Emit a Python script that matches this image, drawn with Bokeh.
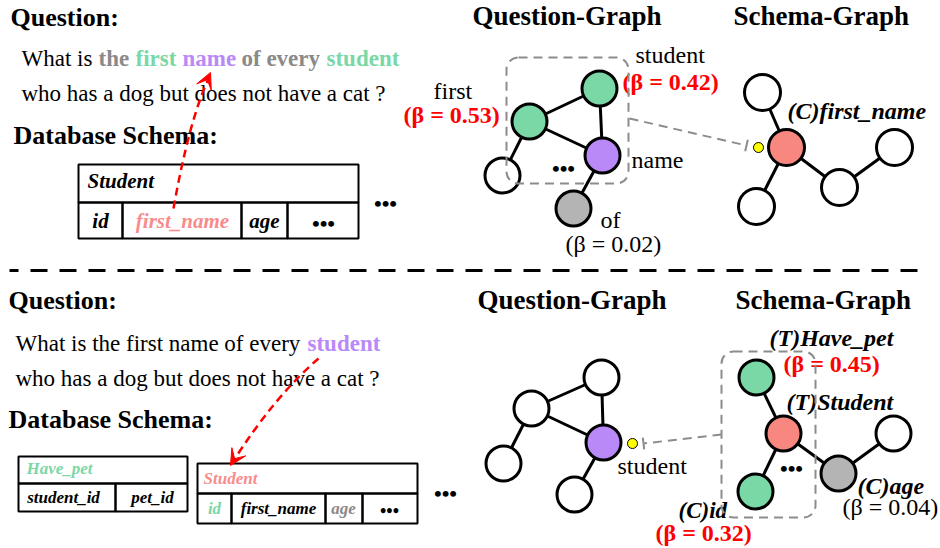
from bokeh.plotting import figure
from bokeh.models import Range1d, BoxAnnotation, Arrow, TeeHead, VeeHead
from bokeh.core.properties import value
from bokeh.embed import file_html
from bokeh.resources import INLINE

FONT = "Liberation Serif"
GREEN = "#7ad7a6"
PURPLE = "#b98af7"
PINK = "#f7877f"
PINK_TXT = "#f88c8c"
GRAY = "#b4b4b4"
GRAY_TXT = "#8a8a8a"
DASH_GRAY = "#8c8c8c"
RED = "#ff0000"
YELLOW = "#ffff00"
BASELINE_FIX = 0.32  # svg text sits lower than the canvas baseline; lift by this many em

# ---------------- graph nodes / edges ----------------
top_q_x = [529, 599, 602, 502, 573]
top_q_y = [121, 88, 155, 175, 208]
top_q_fill = [GREEN, GREEN, PURPLE, "white", GRAY]
top_q_edges = [(0, 1), (0, 2), (1, 2), (0, 3), (2, 4)]

top_s_x = [786, 762, 756, 839, 894]
top_s_y = [147, 92, 206, 187, 147]
top_s_fill = [PINK, "white", "white", "white", "white"]
top_s_edges = [(0, 1), (0, 2), (0, 3), (3, 4)]

bot_q_x = [601, 531, 603, 503, 574]
bot_q_y = [377, 408, 442, 463, 494]
bot_q_fill = ["white", "white", PURPLE, "white", "white"]
bot_q_edges = [(1, 0), (1, 2), (0, 2), (1, 3), (2, 4)]

bot_s_x = [756, 783, 755, 838, 893]
bot_s_y = [377, 433, 491, 473, 433]
bot_s_fill = [GREEN, PINK, GREEN, GRAY, "white"]
bot_s_edges = [(1, 0), (1, 2), (1, 3), (3, 4)]

# ---------------- tables (left, right, top, bottom) ----------------
top_table_cells = [(78, 358, 164, 202), (78, 122, 202, 238), (122, 241, 202, 238),
                   (241, 287, 202, 238), (287, 358, 202, 238)]
pet_table_cells = [(18, 187, 456, 483), (18, 115, 483, 511), (115, 187, 483, 511)]
stu_table_cells = [(197, 417, 463, 493), (197, 231, 493, 523), (231, 325, 493, 523),
                   (325, 362, 493, 523), (362, 417, 493, 523)]

# ---------------- texts: x, y(baseline), text, size, color, style, align ----------------
texts = [
    # top half
    (10, 25, "Question:", 26, "black", "bold", "left"),
    (21, 65, "What is", 23, "black", "normal", "left"),
    (98, 65, "the", 23, GRAY_TXT, "bold", "left"),
    (135, 65, "first", 23, GREEN, "bold", "left"),
    (182, 65, "name", 23, PURPLE, "bold", "left"),
    (241, 65, "of every", 23, GRAY_TXT, "bold", "left"),
    (326, 65, "student", 23, GREEN, "bold", "left"),
    (21, 100, "who has a dog but does not have a cat ?", 23, "black", "normal", "left"),
    (13, 143, "Database Schema:", 26, "black", "bold", "left"),
    (87, 187, "Student", 21, "black", "bold italic", "left"),
    (100, 227, "id", 21, "black", "bold italic", "center"),
    (182, 227, "first_name", 21, PINK_TXT, "bold italic", "center"),
    (264, 227, "age", 21, "black", "bold italic", "center"),
    (472, 24, "Question-Graph", 27, "black", "bold", "left"),
    (733, 24, "Schema-Graph", 27, "black", "bold", "left"),
    (433, 98, "first", 24, "black", "normal", "left"),
    (403, 122, "(β = 0.53)", 24, RED, "bold", "left"),
    (635, 62, "student", 24, "black", "normal", "left"),
    (622, 89, "(β = 0.42)", 24, RED, "bold", "left"),
    (631, 167, "name", 24, "black", "normal", "left"),
    (600, 227, "of", 24, "black", "normal", "left"),
    (565, 251, "(β = 0.02)", 24, "black", "normal", "left"),
    (787, 118, "(C)first_name", 24, "black", "bold italic", "left"),
    # bottom half
    (8, 308, "Question:", 26, "black", "bold", "left"),
    (15, 350, "What is the first name of every", 23, "black", "normal", "left"),
    (307, 350, "student", 23, PURPLE, "bold", "left"),
    (15, 385, "who has a dog but does not have a cat ?", 23, "black", "normal", "left"),
    (8, 427, "Database Schema:", 26, "black", "bold", "left"),
    (26, 473, "Have_pet", 17, GREEN, "bold italic", "left"),
    (63, 502, "student_id", 17, "black", "bold italic", "center"),
    (152, 502, "pet_id", 17, "black", "bold italic", "center"),
    (203, 483, "Student", 17, PINK_TXT, "bold italic", "left"),
    (214, 513, "id", 17, GREEN, "bold italic", "center"),
    (278, 513, "first_name", 17, "black", "bold italic", "center"),
    (343, 513, "age", 17, GRAY_TXT, "bold italic", "center"),
    (477, 308, "Question-Graph", 27, "black", "bold", "left"),
    (735, 308, "Schema-Graph", 27, "black", "bold", "left"),
    (617, 473, "student", 24, "black", "normal", "left"),
    (769, 345, "(T)Have_pet", 24, "black", "bold italic", "left"),
    (783, 371, "(β = 0.45)", 24, RED, "bold", "left"),
    (786, 409, "(T)Student", 24, "black", "bold italic", "left"),
    (857, 493, "(C)age", 24, "black", "bold italic", "left"),
    (842, 514, "(β = 0.04)", 24, "black", "normal", "left"),
    (678, 517, "(C)id", 23, "black", "bold italic", "left"),
    (655, 540, "(β = 0.32)", 24, RED, "bold", "left"),
]

# ellipsis marks: x, y(center), size
dots = [(323, 223, 22), (385, 203, 22), (563, 168, 22),
        (389, 510, 18), (445, 493, 22), (791, 468, 22)]

p = figure(width=940, height=548, x_range=Range1d(0, 940), y_range=Range1d(548, 0),
           output_backend="svg", toolbar_location=None, min_border=0,
           x_axis_location=None, y_axis_location=None)
p.grid.visible = False
p.outline_line_color = None
p.background_fill_color = "white"
p.border_fill_color = "white"


def draw_graph(xs, ys, fills, edges, r):
    p.segment(x0=[xs[a] for a, b in edges], y0=[ys[a] for a, b in edges],
              x1=[xs[b] for a, b in edges], y1=[ys[b] for a, b in edges],
              line_color="black", line_width=3)
    p.circle(x=xs, y=ys, radius=r, fill_color=fills, line_color="black", line_width=3)


def draw_table(cells):
    p.quad(left=[c[0] for c in cells], right=[c[1] for c in cells],
           top=[c[2] for c in cells], bottom=[c[3] for c in cells],
           fill_color=None, line_color="black", line_width=2)


draw_graph(top_q_x, top_q_y, top_q_fill, top_q_edges, 17.5)
draw_graph(top_s_x, top_s_y, top_s_fill, top_s_edges, 18)
draw_graph(bot_q_x, bot_q_y, bot_q_fill, bot_q_edges, 17.5)
draw_graph(bot_s_x, bot_s_y, bot_s_fill, bot_s_edges, 17.5)

draw_table(top_table_cells)
draw_table(pet_table_cells)
draw_table(stu_table_cells)

for (x, y, s, size, color, style, align) in texts:
    p.text(x=[x], y=[y - BASELINE_FIX * size], text=[s], text_font=value(FONT),
           text_font_size=f"{size}px", text_color=color, text_font_style=style,
           text_align=align, text_baseline="alphabetic")

for (x, y, size) in dots:
    p.text(x=[x], y=[y], text=["•••"], text_font=value(FONT), text_font_size=f"{size}px",
           text_color="black", text_font_style="bold", text_align="center",
           text_baseline="middle")

# separator
p.line(x=[9, 923], y=[270, 270], line_color="black", line_width=3,
       line_dash="17 12", line_dash_offset=8)

# dashed rounded boxes
for (l, r, t, b) in [(506, 628, 57, 183), (721, 815, 351, 517)]:
    p.add_layout(BoxAnnotation(left=l, right=r, top=t, bottom=b, fill_alpha=0,
                               line_color=DASH_GRAY, line_alpha=1, line_width=2,
                               line_dash="9 6", border_radius=12))

# gray dashed connectors with tee heads
p.add_layout(Arrow(x_start=629, y_start=118, x_end=746, y_end=145,
                   line_color=DASH_GRAY, line_width=2, line_dash="9 6",
                   end=TeeHead(size=12, line_color=DASH_GRAY, line_width=2)))
p.add_layout(Arrow(x_start=721, y_start=434, x_end=643, y_end=443,
                   line_color=DASH_GRAY, line_width=2, line_dash="9 6",
                   end=TeeHead(size=12, line_color=DASH_GRAY, line_width=2)))

# yellow dots
p.circle(x=[758, 632], y=[147, 443], radius=5, fill_color=YELLOW, line_color="black",
         line_width=1)

# red dashed curved arrows
p.quadratic(x0=[173, 318], y0=[208, 358], x1=[209, 232], y1=[76, 462],
            cx=[189, 273], cy=[118, 397], line_color=RED, line_width=2.5, line_dash="8 5")
p.add_layout(Arrow(x_start=206, y_start=81, x_end=210, y_end=72, line_color=None,
                   end=VeeHead(size=16, fill_color=RED, line_color=RED, line_width=1)))
p.add_layout(Arrow(x_start=233, y_start=460, x_end=230, y_end=465, line_color=None,
                   end=VeeHead(size=16, fill_color=RED, line_color=RED, line_width=1)))

open("out.html", "w").write(file_html(p, INLINE))
